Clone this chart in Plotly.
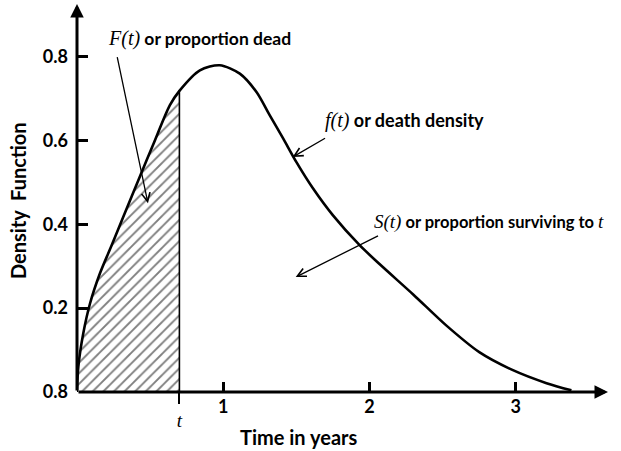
import plotly.graph_objects as go

# ---- data ----
time_years = [0, 0.009, 0.043, 0.089, 0.157, 0.237, 0.316, 0.43, 0.521, 0.635, 0.70,
              0.84, 0.976, 1.113, 1.227, 1.317, 1.41, 1.50, 1.614, 1.75, 1.932, 2.068,
              2.30, 2.52, 2.75, 2.98, 3.21, 3.38]
density = [0, 0.060, 0.140, 0.211, 0.283, 0.350, 0.417, 0.514, 0.590, 0.684, 0.718,
           0.767, 0.779, 0.759, 0.715, 0.66, 0.604, 0.548, 0.485, 0.421, 0.35, 0.305,
           0.232, 0.160, 0.095, 0.052, 0.021, 0.004]

T_MARK = 0.70                      # the point "t" on the time axis
x_tick_vals = [1, 2, 3]
x_tick_text = ["1", "2", "3"]
y_tick_vals = [0, 0.2, 0.4, 0.6, 0.8]
y_tick_text = ["0.8", "0.2", "0.4", "0.6", "0.8"]
X_MAX = 3.63
Y_MAX = 0.925

SANS = "Lato"
SERIF = "Liberation Serif"

shade_x = [t for t in time_years if t <= T_MARK]
shade_y = [f for t, f in zip(time_years, density) if t <= T_MARK]
f_at_t = density[time_years.index(T_MARK)]

fig = go.Figure()

# hatched area F(t)
fig.add_trace(go.Scatter(
    x=shade_x, y=shade_y, mode="lines",
    line=dict(width=0, shape="spline", smoothing=0.8, color="black"),
    fill="tozeroy", fillcolor="white",
    fillpattern=dict(shape="/", size=7.5, solidity=0.25, fgcolor="black", bgcolor="white"),
    hoverinfo="skip", showlegend=False))

# density curve
fig.add_trace(go.Scatter(
    x=time_years, y=density, mode="lines",
    line=dict(color="black", width=2.6, shape="spline", smoothing=0.8),
    showlegend=False))

# vertical line at t (on overlay axis carrying the downward "t" tick)
fig.add_trace(go.Scatter(
    x=[T_MARK, T_MARK], y=[0, f_at_t], xaxis="x2", yaxis="y", mode="lines",
    line=dict(color="black", width=1.6), showlegend=False))


def ital(s, size=20):
    return (f"<span style=\"font-family:'{SERIF}';font-weight:normal;font-size:{size}px\">"
            f"<i>{s}</i></span>")


LABEL_FONT = dict(family=SANS, size=18, color="black", weight="bold")

annotations = [
    # axes drawn as arrows
    dict(x=X_MAX, y=0, ax=0, ay=0, xref="x", yref="y", axref="x", ayref="y",
         text="", showarrow=True, arrowhead=2, arrowsize=0.9, arrowwidth=3, arrowcolor="black",
         standoff=0, startstandoff=0),
    dict(x=0, y=Y_MAX, ax=0, ay=0, xref="x", yref="y", axref="x", ayref="y",
         text="", showarrow=True, arrowhead=2, arrowsize=0.9, arrowwidth=3, arrowcolor="black",
         standoff=0, startstandoff=0),
    # labels
    dict(x=0.20, y=0.843, xref="x", yref="y", xanchor="left", yanchor="middle",
         text=ital("F(t)") + " or proportion dead", showarrow=False,
         font=dict(family=SANS, size=17.5, color="black", weight="bold")),
    dict(x=0.485, y=0.45, ax=0.273, ay=0.802, xref="x", yref="y", axref="x", ayref="y",
         text="", showarrow=True, arrowhead=5, arrowsize=1.3, arrowwidth=1.3, arrowcolor="black"),
    dict(x=1.68, y=0.648, xref="x", yref="y", xanchor="left", yanchor="middle",
         text=ital("f(t)") + " or death density", showarrow=False, font=LABEL_FONT),
    dict(x=1.474, y=0.56, ax=1.706, ay=0.607, xref="x", yref="y", axref="x", ayref="y",
         text="", showarrow=True, arrowhead=5, arrowsize=1.3, arrowwidth=1.3, arrowcolor="black"),
    dict(x=2.02, y=0.405, xref="x", yref="y", xanchor="left", yanchor="middle",
         text=ital("S(t)", 19) + " or proportion surviving to " + ital("t", 19), showarrow=False,
         font=dict(family=SANS, size=16.5, color="black", weight="bold")),
    dict(x=1.495, y=0.274, ax=2.068, ay=0.374, xref="x", yref="y", axref="x", ayref="y",
         text="", showarrow=True, arrowhead=5, arrowsize=1.3, arrowwidth=1.3, arrowcolor="black"),
    # axis titles (pixel positions converted below)
    dict(x=18, y=201, xref="paper", yref="paper", text="Density\u00a0\u00a0Function",
         showarrow=False, textangle=-90, xanchor="center", yanchor="middle",
         font=dict(family=SANS, size=20, color="black", weight="bold")),
    dict(x=298, y=437, xref="paper", yref="paper", text="Time in years", showarrow=False,
         xanchor="center", yanchor="middle",
         font=dict(family=SANS, size=20, color="black", weight="bold")),
]

L, R, T, B = 77, 13, 4, 59
W, H = 621, 451
pw, ph = W - L - R, H - T - B
for a in annotations:
    if a.get("xref") == "paper":
        a["x"] = (a["x"] - L) / pw
        a["y"] = (H - B - a["y"]) / ph

TICK_FONT = dict(family=SANS, size=18, color="black", weight="bold")

fig.update_layout(
    width=W, height=H,
    margin=dict(l=L, r=R, t=T, b=B, autoexpand=False),
    paper_bgcolor="white", plot_bgcolor="white",
    showlegend=False,
    xaxis=dict(range=[0, X_MAX], showgrid=False, zeroline=False, showline=False,
               automargin=False,
               tickvals=x_tick_vals, ticktext=x_tick_text, ticks="inside", ticklen=10,
               tickwidth=3, tickcolor="black", ticklabelstandoff=2, tickfont=TICK_FONT),
    xaxis2=dict(range=[0, X_MAX], overlaying="x", matches="x", side="bottom",
                showgrid=False, zeroline=False, showline=False, automargin=False,
                tickvals=[T_MARK], ticktext=["<i>t</i>"], ticks="outside", ticklen=11,
                tickwidth=2, tickcolor="black", ticklabelstandoff=0,
                tickfont=dict(family=SERIF, size=19, color="black")),
    yaxis=dict(range=[0, Y_MAX], showgrid=False, zeroline=False, showline=False,
               automargin=False,
               tickvals=y_tick_vals, ticktext=y_tick_text, ticks="inside", ticklen=11,
               tickwidth=3, tickcolor="black", ticklabelstandoff=8, tickfont=TICK_FONT),
    annotations=annotations,
)

fig.write_html("out.html", config={"displayModeBar": False},
               post_script="document.body.style.margin='0';document.body.style.padding='0';")
